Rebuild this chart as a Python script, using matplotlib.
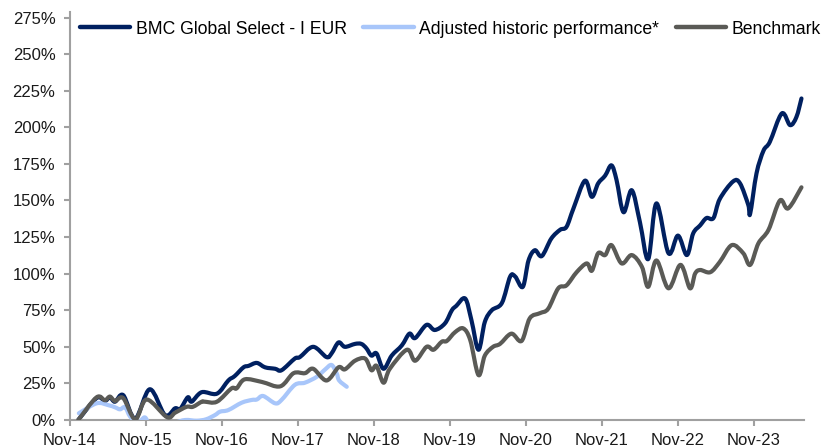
import matplotlib
matplotlib.use("Agg")
import matplotlib.pyplot as plt
from matplotlib.ticker import FixedLocator, FuncFormatter
from matplotlib.path import Path
from matplotlib.patches import PathPatch
from matplotlib.lines import Line2D

plt.rcParams['font.family'] = ['Liberation Sans', 'DejaVu Sans']

# months since Nov-2014
fund_m = [1.3, 4.2, 5.5, 6.3, 7.1, 8.4, 10.3, 12.6, 15.0, 16.6, 17.4, 18.6, 19.2, 20.8, 23.2,
          25.0, 26.0, 27.4, 28.2, 29.5, 30.8, 32.4, 33.4, 35.5, 36.3, 38.4, 40.5, 41.3, 42.4,
          43.4, 45.0, 46.0, 46.8, 47.6, 48.4, 49.5, 50.8, 52.4, 53.6, 54.5, 56.3, 57.6, 59.2,
          60.3, 61.0, 62.4, 63.4, 64.5, 65.5, 66.6, 68.2, 69.5, 70.3, 71.5, 72.4, 73.4, 74.5,
          76.0, 77.4, 78.4, 79.5, 81.3, 82.4, 83.4, 84.5, 85.5, 86.3, 87.4, 88.7, 90.0, 91.3,
          92.6, 94.5, 96.0, 97.4, 98.4, 99.5, 100.5, 101.6, 102.6, 104.7, 105.8, 107.1, 107.4,
          108.4, 109.5, 110.5, 112.4, 113.7, 114.7, 115.5]
fund_v = [0, 15, 13, 15.5, 12.5, 17, 1, 21, 3.4, 8, 7.5, 15.5, 12.5, 19, 18,
          27, 30, 36, 37, 39, 36, 35, 34, 42, 43, 50, 43, 45.5, 53,
          50, 52, 52, 49, 44, 45.5, 35, 44, 51, 59, 56, 65, 61.5, 66,
          75, 78, 83, 68, 48, 67, 75, 80, 98, 98, 91, 109, 116, 112,
          124, 130, 132, 144.6, 163.5, 152.5, 161.7, 167, 174, 164, 142, 157, 135, 110,
          148, 114, 126, 112.7, 127.5, 133, 138, 138, 151, 163, 161.7, 147, 141,
          168.5, 184, 190, 209.5, 201.5, 207, 219.7]

adj_m = [1.4, 4.2, 6.0, 7.1, 7.9, 8.7, 9.5, 10.7, 11.8, 12.6, 14.5, 16.5, 18.2, 20.0, 21.5,
         22.9, 23.7, 25.0, 27.1, 28.7, 29.5, 30.5, 32.4, 33.4, 35.5, 37.1, 39.0, 40.3, 41.3,
         42.1, 42.5, 43.7]
adj_v = [4.6, 11.4, 10.2, 8.7, 7.3, 8.7, 2.3, -2, 1.8, -3, -5, -2, 0, -0.5, 0.5,
         3.4, 5.7, 6.8, 11.8, 13.7, 14, 16.4, 11.4, 13.7, 24, 25.5, 29.6, 34.6, 37.6,
         32, 27, 22.7]

bench_m = [1.3, 4.2, 5.5, 6.3, 7.1, 8.4, 10.3, 12.1, 15.3, 16.6, 18.4, 19.4, 20.8, 21.3, 23.2,
           25.5, 26.3, 27.6, 30.3, 33.2, 35.3, 37.1, 38.4, 40.5, 42.4, 43.4, 45.0, 46.6, 47.6,
           48.4, 49.5, 50.5, 53.2, 54.5, 56.3, 57.4, 58.7, 59.5, 60.8, 62.1, 63.2, 64.5, 65.5,
           66.8, 67.9, 69.7, 71.3, 72.6, 74.2, 75.5, 77.1, 78.4, 80.0, 81.6, 82.4, 83.4, 84.5,
           85.5, 87.1, 88.7, 90.3, 91.3, 92.6, 94.5, 96.4, 97.9, 98.7, 99.5, 101.1, 102.6,
           104.5, 106.3, 107.4, 108.7, 110.3, 112.1, 113.4, 115.5]
bench_v = [0, 15.5, 13.5, 16, 13, 15, 0.5, 14, 2, 5, 9, 9, 12.5, 12.5, 12.5,
           21.6, 21.6, 27.8, 26, 23, 32, 32, 35, 27, 36, 34.6, 40.5, 42, 34,
           37, 25.5, 35, 48, 40.5, 50, 48, 53.5, 54, 60, 62.6, 54.6, 30.7, 44,
           50, 52, 59, 54, 69.5, 73, 76, 90, 92, 101, 107, 102, 114, 112.7,
           119.5, 107, 112.7, 104.7, 91, 109, 90, 106, 90, 100, 102.5, 101, 108,
           119.5, 114, 106, 120.7, 130, 150, 144.6, 159]

tick_months = [0, 12, 24, 36, 48, 60, 72, 84, 96, 108]
tick_labels = ['Nov-14', 'Nov-15', 'Nov-16', 'Nov-17', 'Nov-18',
               'Nov-19', 'Nov-20', 'Nov-21', 'Nov-22', 'Nov-23']
y_ticks = [0, 25, 50, 75, 100, 125, 150, 175, 200, 225, 250, 275]

series_names = ['BMC Global Select - I EUR', 'Adjusted historic performance*', 'Benchmark']
colors = ['#002060', '#A8C6FA', '#5A5A56']


def smooth_path(xs, ys, k=1.0 / 6.0):
    """Excel-style smoothed line: cubic Bezier through the data points."""
    n = len(xs)
    verts = [(xs[0], ys[0])]
    codes = [Path.MOVETO]
    for i in range(n - 1):
        x0, y0 = (xs[i - 1], ys[i - 1]) if i > 0 else (xs[i], ys[i])
        x1, y1 = xs[i], ys[i]
        x2, y2 = xs[i + 1], ys[i + 1]
        x3, y3 = (xs[i + 2], ys[i + 2]) if i + 2 < n else (x2, y2)
        c1 = (x1 + (x2 - x0) * k, y1 + (y2 - y0) * k)
        c2 = (x2 - (x3 - x1) * k, y2 - (y3 - y1) * k)
        verts += [c1, c2, (x2, y2)]
        codes += [Path.CURVE4] * 3
    return Path(verts, codes)


W, H = 832, 448
fig = plt.figure(figsize=(W / 100, H / 100), dpi=100)
left, right, bottom, top = 70, 804, 420, 11.7
ax = fig.add_axes([left / W, 1 - bottom / H, (right - left) / W, (bottom - top) / H])

lw = 3.0
for (xs, ys), col, z in zip([(fund_m, fund_v), (adj_m, adj_v), (bench_m, bench_v)],
                            colors, [2, 3, 4]):
    patch = PathPatch(smooth_path(xs, ys), facecolor='none', edgecolor=col, lw=lw,
                      joinstyle='round', capstyle='round', zorder=z,
                      transform=ax.transData, clip_on=True)
    ax.add_patch(patch)

ax.set_xlim(0, 115.9)
ax.set_ylim(0, 279)
ax.xaxis.set_major_locator(FixedLocator(tick_months))
ax.set_xticklabels(tick_labels)
ax.yaxis.set_major_locator(FixedLocator(y_ticks))
ax.yaxis.set_major_formatter(FuncFormatter(lambda v, p: f"{v:.0f}%"))

axis_col = '#A0A0A0'
for s in ['top', 'right']:
    ax.spines[s].set_visible(False)
for s in ['left', 'bottom']:
    ax.spines[s].set_color(axis_col)
    ax.spines[s].set_linewidth(1.5)
ax.tick_params(axis='both', colors=axis_col, width=1.5, length=4.5, labelsize=12,
               labelcolor='#1a1a1a')
ax.tick_params(axis='y', pad=6)
ax.tick_params(axis='x', pad=5)

handles = [Line2D([], [], color=c, lw=3.2, solid_capstyle='round') for c in colors]
leg = fig.legend(handles, series_names, loc='center left',
                 bbox_to_anchor=(80 / W, 1 - 29 / H), ncol=3,
                 frameon=False, fontsize=12.7, handlelength=2.85, handletextpad=0.3,
                 columnspacing=0.95, borderpad=0, borderaxespad=0)

fig.savefig('out.png', dpi=100)
